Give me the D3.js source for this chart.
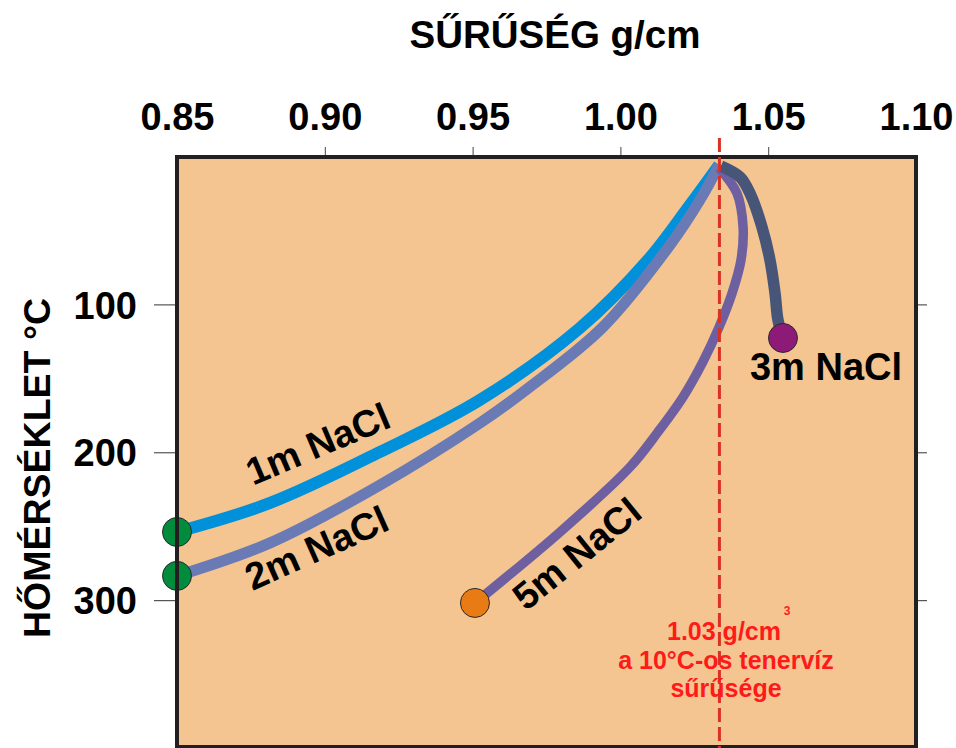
<!DOCTYPE html>
<html><head><meta charset="utf-8">
<script src="https://cdn.jsdelivr.net/npm/d3@7"></script>
<style>html,body{margin:0;padding:0;background:#fff;}svg{display:block;font-family:"Liberation Sans",Arial,sans-serif;}</style>
</head><body>
<script>
// ---- data ----
const xTicks = [0.85, 0.90, 0.95, 1.00, 1.05, 1.10];
const yTicks = [100, 200, 300];
const seawaterDensity = 1.0335;
const seriesNames = ["1m NaCl", "2m NaCl", "5m NaCl", "3m NaCl"];
const density1m = [1.0334, 1.0235, 1.0093, 0.9863, 0.9525, 0.9187, 0.8815, 0.8500];
const temp1m    = [5.7, 32.8, 70.0, 116.0, 164.6, 199.8, 234.3, 253.9];
const density2m = [1.0334, 1.0269, 1.0168, 0.9941, 0.9694, 0.9525, 0.9187, 0.8815, 0.8500];
const temp2m    = [5.7, 29.4, 59.8, 115.3, 155.8, 180.2, 222.1, 261.3, 283.6];
const density5m = [1.0334, 1.0394, 1.0415, 1.0408, 1.0378, 1.0334, 1.0279, 1.0212, 1.0127, 1.0033, 0.9796, 0.9508];
const temp5m    = [7.8, 24.7, 47.7, 70.0, 92.3, 115.3, 138.9, 162.6, 186.3, 209.9, 253.9, 301.9];
const density3m = [1.0340, 1.0405, 1.0438, 1.0479, 1.0506, 1.0523, 1.0533, 1.0550];
const temp3m    = [6.4, 13.9, 24.7, 47.7, 70.0, 92.3, 110.5, 122.7];

const W = 956, H = 748;
const svg = d3.select("body").append("svg").attr("width", W).attr("height", H);

const x = d3.scaleLinear().domain([0.85, 1.10]).range([177, 916]);
const y = d3.scaleLinear().domain([0, 400]).range([156.5, 748]);

// plot background
svg.append("rect").attr("x", x(0.85)).attr("y", 157).attr("width", x(1.10) - x(0.85)).attr("height", 590)
  .attr("fill", "#F4C591");

// axes ticks
const topAxis = svg.append("g").attr("transform", "translate(0,157)")
  .call(d3.axisTop(x).tickValues(xTicks).tickSize(10).tickFormat(d3.format(".2f")));
topAxis.select(".domain").remove();
topAxis.selectAll(".tick line").attr("stroke", "#444").attr("stroke-width", 1)
  .attr("opacity", (d, i) => (i === 0 || i === xTicks.length - 1) ? 0 : 1);
topAxis.selectAll(".tick text").attr("font-size", 38).attr("font-weight", "bold").attr("fill", "#000")
  .attr("y", 0).attr("dy", -27);

const leftAxis = svg.append("g").attr("transform", "translate(177,0)")
  .call(d3.axisLeft(y).tickValues(yTicks).tickSize(23).tickFormat(d3.format("d")));
leftAxis.select(".domain").remove();
leftAxis.selectAll(".tick line").attr("stroke", "#555").attr("stroke-width", 1.2);
leftAxis.selectAll(".tick text").attr("font-size", 38).attr("font-weight", "bold").attr("fill", "#000")
  .attr("x", -40).attr("dy", "0.36em");

const rightAxis = svg.append("g").attr("transform", "translate(916,0)")
  .call(d3.axisRight(y).tickValues(yTicks).tickSize(11).tickFormat(""));
rightAxis.select(".domain").remove();
rightAxis.selectAll(".tick line").attr("stroke", "#555").attr("stroke-width", 1.2);

// titles
svg.append("text").attr("x", 555).attr("y", 48).attr("text-anchor", "middle")
  .attr("font-size", 38.5).attr("font-weight", "bold").text("SŰRŰSÉG g/cm");
svg.append("text").attr("transform", "translate(50,468) rotate(-90)").attr("text-anchor", "middle")
  .attr("font-size", 37.5).attr("font-weight", "bold").text("HŐMÉRSÉKLET °C");

// curves
const line = d3.line().x(d => x(d[0])).y(d => y(d[1])).curve(d3.curveCatmullRom.alpha(0.5));
const series = [
  {name: seriesNames[0], d: density1m, t: temp1m, color: "#0091DA", w: 12},
  {name: seriesNames[1], d: density2m, t: temp2m, color: "#6A7AB5", w: 11},
  {name: seriesNames[2], d: density5m, t: temp5m, color: "#6E5FA0", w: 9.5},
  {name: seriesNames[3], d: density3m, t: temp3m, color: "#475579", w: 11.5}
];
series.forEach(s => {
  const pts = s.d.map((v, i) => [v, s.t[i]]);
  svg.append("path").attr("d", line(pts)).attr("fill", "none").attr("stroke", s.color)
    .attr("stroke-width", s.w).attr("stroke-linejoin", "round");
});

// end dots
const dotColors = ["#008C3C", "#008C3C", "#E87B14", "#8E1A78"];
series.forEach((s, i) => {
  const n = s.d.length - 1;
  svg.append("circle").attr("cx", x(s.d[n])).attr("cy", y(s.t[n])).attr("r", 14.5)
    .attr("fill", dotColors[i]).attr("stroke", "#2a2a2a").attr("stroke-width", 1);
});

// frame
svg.append("rect").attr("x", x(0.85)).attr("y", 157).attr("width", x(1.10) - x(0.85)).attr("height", 590)
  .attr("fill", "none").attr("stroke", "#231F20").attr("stroke-width", 4);

// seawater line
svg.append("line").attr("x1", x(seawaterDensity)).attr("x2", x(seawaterDensity)).attr("y1", 138).attr("y2", 748)
  .attr("stroke", "#DA3222").attr("stroke-width", 3).attr("stroke-dasharray", "14,5");

// curve labels
const labelPos = [
  {x: 323, y: 456, a: -23},
  {x: 322, y: 560, a: -24},
  {x: 585, y: 564, a: -39},
  {x: 826, y: 380, a: 0}
];
series.forEach((s, i) => {
  const p = labelPos[i];
  svg.append("text").attr("transform", `translate(${p.x},${p.y}) rotate(${p.a})`)
    .attr("text-anchor", "middle").attr("font-size", 38).attr("font-weight", "bold").attr("fill", "#000")
    .text(s.name);
});

// annotation
const ann = svg.append("g").attr("fill", "#FF1A1A").attr("font-weight", "bold").attr("text-anchor", "middle");
ann.append("text").attr("x", 724).attr("y", 640).attr("font-size", 25).text("1.03 g/cm");
ann.append("text").attr("x", 787).attr("y", 615).attr("font-size", 12).text("3");
ann.append("text").attr("x", 726).attr("y", 669).attr("font-size", 25).text("a 10°C-os tenervíz");
ann.append("text").attr("x", 726).attr("y", 697).attr("font-size", 25).text("sűrűsége");
</script>
</body></html>
